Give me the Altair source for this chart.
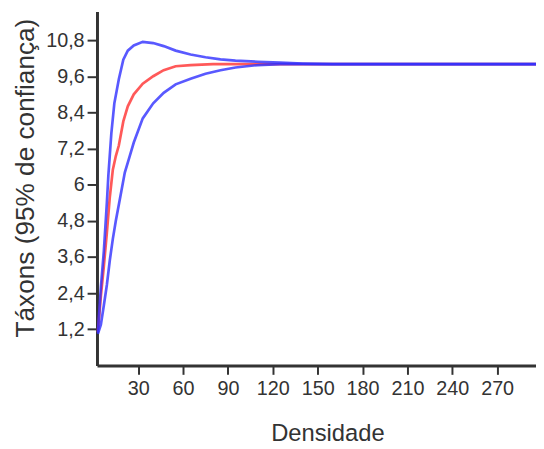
import altair as alt
import pandas as pd

# Densidade (x) values for each curve
x_sup = [3, 5, 7, 9, 10, 12, 14, 17, 20, 23, 27, 33, 40, 47, 55, 65, 75, 85, 95, 110, 125, 140, 160, 200, 250, 296]
y_sup = [1.1, 2.6, 3.8, 5.4, 6.3, 7.7, 8.7, 9.5, 10.15, 10.45, 10.62, 10.74, 10.7, 10.6, 10.45, 10.32, 10.23, 10.16, 10.12, 10.08, 10.05, 10.02, 10.0, 10.0, 10.0, 10.0]

x_med = [3, 5, 7, 9, 11, 13, 15, 17, 20, 23, 27, 33, 40, 47, 55, 65, 80, 100, 140, 200, 250, 296]
y_med = [1.1, 2.3, 3.3, 4.4, 5.6, 6.5, 6.95, 7.3, 8.1, 8.6, 9.0, 9.35, 9.6, 9.8, 9.93, 9.97, 10.0, 10.0, 10.0, 10.0, 10.0, 10.0]

x_inf = [3, 5, 7, 9, 11, 13, 15, 18, 21, 24, 27, 33, 40, 47, 55, 65, 75, 85, 95, 110, 125, 160, 200, 250, 296]
y_inf = [1.05, 1.35, 2.0, 2.67, 3.5, 4.2, 4.8, 5.6, 6.4, 6.9, 7.4, 8.2, 8.7, 9.05, 9.33, 9.52, 9.68, 9.8, 9.89, 9.97, 10.0, 10.0, 10.0, 10.0, 10.0]

x_ticks = [30, 60, 90, 120, 150, 180, 210, 240, 270]
y_ticks = [1.2, 2.4, 3.6, 4.8, 6.0, 7.2, 8.4, 9.6, 10.8]

df_med = pd.DataFrame({"x": x_med, "y": y_med, "s": "média"})
df_blue = pd.concat([
    pd.DataFrame({"x": x_sup, "y": y_sup, "s": "superior"}),
    pd.DataFrame({"x": x_inf, "y": y_inf, "s": "inferior"}),
])

xscale = alt.Scale(domain=[2.4, 296], nice=False, zero=False)
yscale = alt.Scale(domain=[0, 11.75], nice=False, zero=False)

xaxis = alt.Axis(
    values=x_ticks, title="Densidade", grid=False,
    titleX=233, titleY=76, titleBaseline="alphabetic",
    titleFontSize=24, titleFontWeight="normal", titleColor="#333333",
    labelFontSize=20, labelColor="#333333", labelPadding=4,
    tickSize=9, tickWidth=2, tickColor="#333333",
    domainWidth=3, domainColor="#333333",
)
yaxis = alt.Axis(
    values=y_ticks, title="Táxons (95% de confiança)", grid=False,
    labelExpr="replace(format(datum.value, '.1~f'), '.', ',')",
    titleX=-72, titleY=168, titleBaseline="middle", titleAngle=270,
    titleFontSize=26.5, titleFontWeight="normal", titleColor="#333333",
    labelFontSize=20, labelColor="#333333", labelPadding=3,
    tickSize=10, tickWidth=2, tickColor="#333333",
    domainWidth=3, domainColor="#333333",
)

red = alt.Chart(df_med).mark_line(color="#ff3030", strokeWidth=2.7, opacity=0.8).encode(
    x=alt.X("x:Q", scale=xscale, axis=xaxis),
    y=alt.Y("y:Q", scale=yscale, axis=yaxis),
)
blue = alt.Chart(df_blue).mark_line(color="#3030ff", strokeWidth=2.7, opacity=0.8).encode(
    x=alt.X("x:Q", scale=xscale, axis=xaxis),
    y=alt.Y("y:Q", scale=yscale, axis=yaxis),
    detail="s:N",
)

chart = alt.layer(red, blue).properties(
    width=444, height=358,
    autosize=alt.AutoSizeParams(type="none"),
    padding={"left": 90, "top": 1, "right": 0, "bottom": 80},
).configure(font="Liberation Sans").configure_view(stroke=None)

chart.save("out.html", embed_options={"renderer": "svg", "actions": False})
